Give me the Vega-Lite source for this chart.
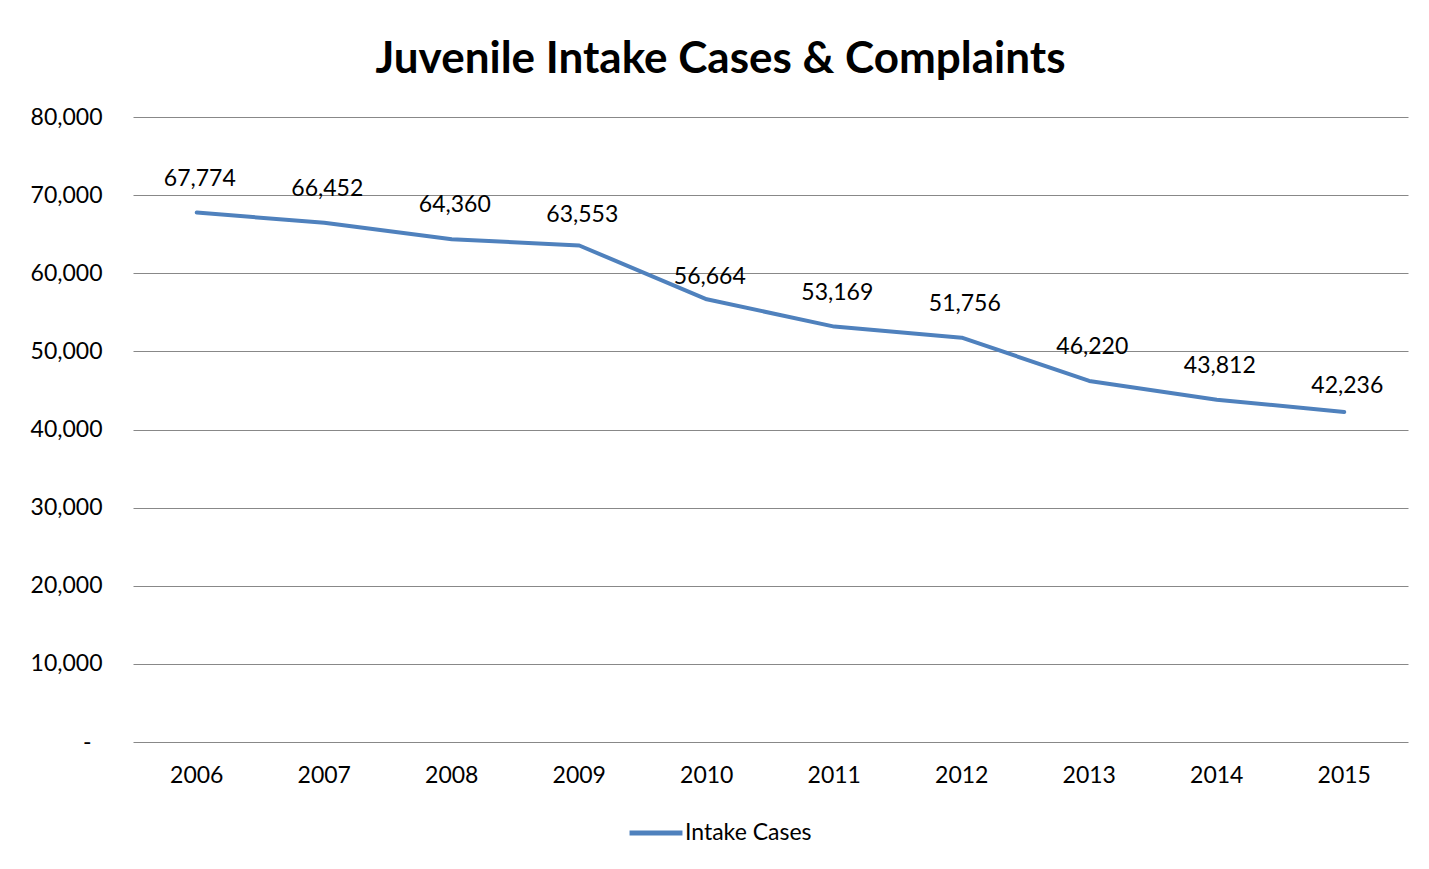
{
  "$schema": "https://vega.github.io/schema/vega-lite/v6.json",
  "autosize": {"type": "none"},
  "width": 1275,
  "height": 625,
  "padding": {"left": 133, "top": 117, "right": 21, "bottom": 127},
  "background": "white",
  "title": {
    "text": "Juvenile Intake Cases & Complaints",
    "font": "Lato",
    "fontSize": 44,
    "fontWeight": "bold",
    "color": "#000000",
    "anchor": "middle",
    "dx": -50,
    "offset": 2,
    "baseline": "middle"
  },
  "data": {
    "values": [
      {"year": "2006", "cases": 67774, "series": "Intake Cases"},
      {"year": "2007", "cases": 66452, "series": "Intake Cases"},
      {"year": "2008", "cases": 64360, "series": "Intake Cases"},
      {"year": "2009", "cases": 63553, "series": "Intake Cases"},
      {"year": "2010", "cases": 56664, "series": "Intake Cases"},
      {"year": "2011", "cases": 53169, "series": "Intake Cases"},
      {"year": "2012", "cases": 51756, "series": "Intake Cases"},
      {"year": "2013", "cases": 46220, "series": "Intake Cases"},
      {"year": "2014", "cases": 43812, "series": "Intake Cases"},
      {"year": "2015", "cases": 42236, "series": "Intake Cases"}
    ]
  },
  "encoding": {
    "x": {
      "field": "year",
      "type": "ordinal",
      "scale": {"type": "band", "paddingInner": 0, "paddingOuter": 0},
      "axis": {
        "title": null,
        "labelAngle": 0,
        "labelFont": "Lato",
        "labelFontSize": 23,
        "labelColor": "#000000",
        "labelPadding": 22,
        "ticks": false,
        "domain": false,
        "grid": false
      }
    },
    "y": {
      "field": "cases",
      "type": "quantitative",
      "scale": {"domain": [0, 80000], "nice": false},
      "axis": {
        "title": null,
        "values": [0, 10000, 20000, 30000, 40000, 50000, 60000, 70000, 80000],
        "labelExpr": "datum.value == 0 ? '-' : format(datum.value, ',')",
        "labelFont": "Lato",
        "labelFontSize": 23,
        "labelColor": "#000000",
        "labelPadding": {"condition": {"test": "datum.value == 0", "value": 42}, "value": 31},
        "ticks": false,
        "domain": false,
        "grid": true,
        "gridColor": "#888888",
        "gridWidth": 1
      }
    }
  },
  "layer": [
    {
      "mark": {"type": "line", "strokeWidth": 4, "strokeCap": "round", "strokeJoin": "round"},
      "encoding": {
        "color": {
          "field": "series",
          "type": "nominal",
          "scale": {"range": ["#4F81BD"]},
          "legend": {
            "title": null,
            "orient": "none",
            "legendX": 494,
            "legendY": 687,
            "symbolType": "stroke",
            "symbolSize": 2800,
            "symbolStrokeWidth": 5,
            "labelFont": "Lato",
            "labelFontSize": 23,
            "labelColor": "#000000",
            "labelOffset": 0
          }
        }
      }
    },
    {
      "transform": [{"filter": "datum.year != '2009' && datum.year != '2010' && datum.year != '2015'"}],
      "mark": {"type": "text", "font": "Lato", "fontSize": 23, "color": "#000000", "dy": -34, "dx": 3},
      "encoding": {
        "text": {"field": "cases", "type": "quantitative", "format": ","}
      }
    },
    {
      "transform": [{"filter": "datum.year == '2009'"}],
      "mark": {"type": "text", "font": "Lato", "fontSize": 23, "color": "#000000", "dy": -30, "dx": 3},
      "encoding": {
        "text": {"field": "cases", "type": "quantitative", "format": ","}
      }
    },
    {
      "transform": [{"filter": "datum.year == '2010'"}],
      "mark": {"type": "text", "font": "Lato", "fontSize": 23, "color": "#000000", "dy": -22, "dx": 3},
      "encoding": {
        "text": {"field": "cases", "type": "quantitative", "format": ","}
      }
    },
    {
      "transform": [{"filter": "datum.year == '2015'"}],
      "mark": {"type": "text", "font": "Lato", "fontSize": 23, "color": "#000000", "dy": -26, "dx": 3},
      "encoding": {
        "text": {"field": "cases", "type": "quantitative", "format": ","}
      }
    }
  ],
  "config": {"view": {"stroke": null}}
}
